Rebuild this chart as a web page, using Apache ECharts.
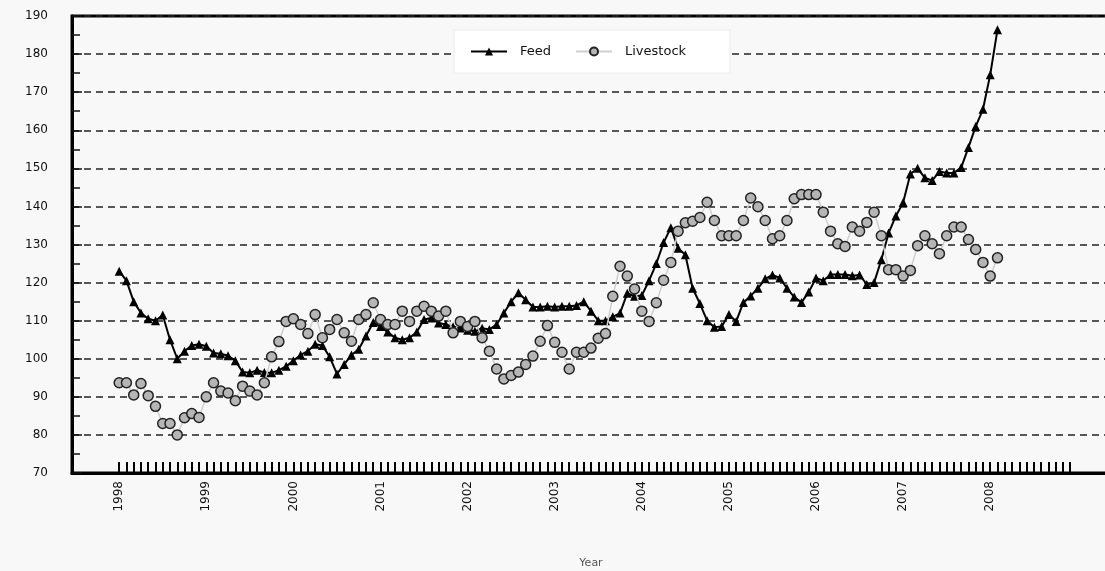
<!DOCTYPE html>
<html>
<head>
<meta charset="utf-8">
<script src="https://cdn.jsdelivr.net/npm/echarts@6/dist/echarts.min.js"></script>
<style>
html,body{margin:0;padding:0;background:#f8f8f8;overflow:hidden;}
#chart{width:1105px;height:571px;}
</style>
</head>
<body>
<div id="chart"></div>
<script>
// Year tick labels (January of each year)
const years = ['1998','1999','2000','2001','2002','2003','2004','2005','2006','2007','2008'];
// Monthly values, Jan 1998 .. Feb 2008
const feed = [
123,120.5,115,112,110.5,110,111.5,105,100,102,103.5,103.8,
103.3,101.5,101.3,100.8,99.5,96.5,96.3,97,96.4,96.3,97,98,
99.5,101,102,103.8,103.5,100.5,96,98.5,101,102.5,106,109.5,
108.5,107,105.5,105,105.5,107,110.3,110.7,109.4,109,108.4,108.1,
107.5,107.2,108,107.7,109,112,115,117.3,115.5,113.6,113.6,113.8,
113.6,113.8,113.8,114,115,112.5,110,110,111,112,117.2,116.4,
116.6,120.5,125,130.5,134.4,129,127.3,118.5,114.5,110,108.3,108.5,
111.6,109.8,114.8,116.5,118.5,121,122,121.2,118.5,116.2,114.8,117.5,
121.2,120.5,122.1,122.1,122.1,121.8,122,119.5,120,126,133,137.5,
141,148.5,150,147.5,146.8,149.2,148.8,148.8,150.2,155.5,161,165.5,
174.6,186.4
];
const livestock = [
93.7,93.7,90.5,93.5,90.3,87.5,83,83,80,84.5,85.6,84.6,
90,93.7,91.5,91,89,92.8,91.5,90.5,93.7,100.5,104.5,109.8,
110.5,109,106.6,111.6,105.5,107.7,110.3,106.8,104.6,110.3,111.6,114.7,
110.3,109,109,112.5,109.8,112.5,113.8,112.5,111.2,112.5,106.8,109.8,
108.5,109.8,105.5,102,97.3,94.7,95.6,96.5,98.5,100.7,104.6,108.7,
104.3,101.7,97.3,101.7,101.7,102.8,105.4,106.6,116.4,124.3,121.7,118.3,
112.5,109.8,114.7,120.6,125.3,133.5,135.7,136.1,137.1,141.1,136.3,132.3,
132.3,132.3,136.3,142.2,139.9,136.3,131.5,132.3,136.3,142,143.1,143.1,
143.1,138.5,133.5,130.2,129.5,134.6,133.5,135.8,138.5,132.3,123.4,123.4,
121.7,123.2,129.7,132.3,130.2,127.6,132.3,134.6,134.6,131.3,128.7,125.3,
121.7,126.5
];
// Month ticks: Jan 1998 (0) .. Dec 2008 (131)
const monthTicks = [];
for (let m = 0; m <= 131; m++) monthTicks.push(m);
const yearTicks = years.map((y, i) => i * 12);

const chart = echarts.init(document.getElementById('chart'), null, {renderer:'canvas'});
const FONT = 'DejaVu Sans';
chart.setOption({
  backgroundColor: '#f8f8f8',
  animation: false,
  grid: {left: 72, width: 1038, top: 16, bottom: 98, show: true, borderColor: '#000', borderWidth: 3,
         backgroundColor: 'transparent', outerBoundsMode: 'none', containLabel: false},
  legend: {
    left: 454, top: 30,
    padding: [15, 44, 15, 16],
    backgroundColor: '#ffffff',
    borderColor: '#ececec', borderWidth: 1,
    itemWidth: 36, itemHeight: 10, itemGap: 24,
    textStyle: {fontFamily: FONT, fontSize: 13, color: '#111', padding: [0, 0, 0, 8]},
    data: ['Feed', 'Livestock']
  },
  xAxis: {
    type: 'value',
    min: -6.5, max: 136.5,
    name: 'Year',
    nameLocation: 'middle',
    nameGap: 85,
    nameTextStyle: {fontFamily: FONT, fontSize: 11, color: '#555'},
    axisLine: {show: true, onZero: false, lineStyle: {color: '#000', width: 3}},
    axisTick: {
      show: true, inside: true, length: 11,
      customValues: monthTicks,
      lineStyle: {color: '#000', width: 2}
    },
    axisLabel: {
      rotate: 90, margin: 8,
      customValues: yearTicks,
      fontFamily: FONT, fontSize: 12, color: '#111',
      formatter: function (v) { return years[Math.round(v / 12)]; }
    },
    splitLine: {show: false}
  },
  yAxis: {
    type: 'value', min: 70, max: 190, interval: 10,
    axisLine: {show: true, onZero: false, lineStyle: {color: '#000', width: 3}},
    axisTick: {show: true, inside: true, length: 10, lineStyle: {color: '#111', width: 1.5}},
    minorTick: {show: true, splitNumber: 2, length: 8, lineStyle: {color: '#111', width: 1.5}},
    axisLabel: {fontFamily: FONT, fontSize: 12, color: '#111', margin: 24},
    splitLine: {show: true, lineStyle: {color: '#222', width: 1.5, type: [7, 5]}}
  },
  series: [
    {
      name: 'Feed', type: 'line',
      data: feed.map((v, i) => [i, v]),
      symbol: 'triangle', symbolSize: 9, showAllSymbol: true,
      lineStyle: {color: '#000', width: 2},
      itemStyle: {color: '#000'},
      z: 3
    },
    {
      name: 'Livestock', type: 'line',
      data: livestock.map((v, i) => [i, v]),
      symbol: 'circle', symbolSize: 10, showAllSymbol: true,
      lineStyle: {color: '#cfcfcf', width: 1.5},
      itemStyle: {color: '#b5b5b5', borderColor: '#222', borderWidth: 1.5},
      z: 4
    }
  ]
});
</script>
</body>
</html>
